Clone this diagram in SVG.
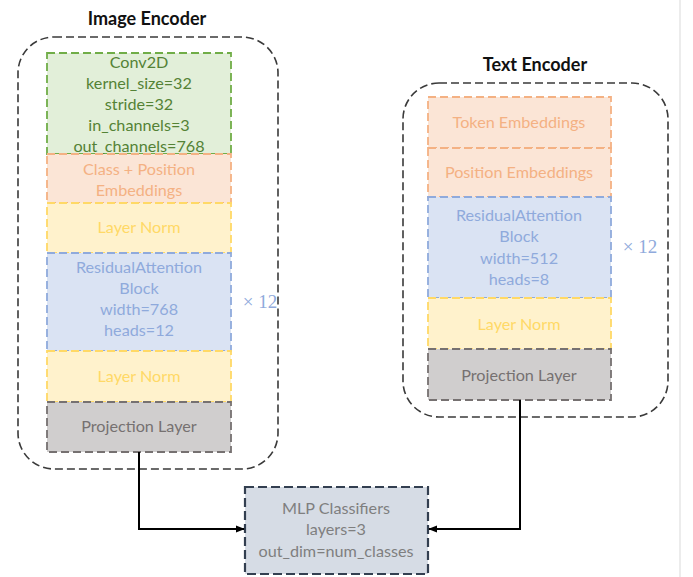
<svg xmlns="http://www.w3.org/2000/svg" width="693" height="577" viewBox="0 0 693 577">
<defs>
<style>
text{font-family:Lato,"Open Sans","Liberation Sans",sans-serif;font-size:16.2px;text-anchor:middle}
.title{font-weight:bold;font-size:18px;fill:#111}
.outer{fill:none;stroke:#3a3a3a;stroke-width:1.6;stroke-dasharray:8 4}
.box{stroke-width:1.8;stroke-dasharray:8 4}
.green{fill:#e2efd9;stroke:#70ad47}
.green-t{fill:#548235}
.orange{fill:#fbe5d6;stroke:#f4b183}
.orange-t{fill:#f4b183}
.yellow{fill:#fff2cc;stroke:#ffd966}
.yellow-t{fill:#ffd966}
.blue{fill:#dae3f3;stroke:#8faadc}
.blue-t{fill:#8faadc}
.gray{fill:#d0cece;stroke:#767171}
.gray-t{fill:#767171}
.mlp{fill:#d6dce5;stroke:#333f50;stroke-width:2.2;stroke-dasharray:9 4}
.mlp-t{fill:#7f7f7f}
.rep{fill:#8faadc;font-size:19px;font-family:"Liberation Serif",serif}
.conn{fill:none;stroke:#000;stroke-width:2}
</style>
<marker id="arr" viewBox="0 0 10 10" refX="9" refY="5" markerWidth="4.5" markerHeight="4.5" orient="auto" markerUnits="strokeWidth">
<path d="M0,1 L10,5 L0,9 z" fill="#000"/>
</marker>
</defs>
<rect x="0" y="0" width="693" height="577" fill="#fff"/>
<line x1="680" y1="0" x2="680" y2="577" stroke="#ececec" stroke-width="2"/>

<g id="image-encoder">
<text class="title" x="147" y="25">Image Encoder</text>
<rect class="outer" x="18" y="37" width="260" height="432" rx="36"/>
<g id="conv2d">
<rect class="box green" x="47" y="53" width="184" height="101"/>
<text class="green-t" x="139" y="68">Conv2D</text>
<text class="green-t" x="139" y="89">kernel_size=32</text>
<text class="green-t" x="139" y="110">stride=32</text>
<text class="green-t" x="139" y="131">in_channels=3</text>
<text class="green-t" x="139" y="152">out_channels=768</text>
</g>
<g id="class-pos-emb">
<rect class="box orange" x="47" y="154" width="184" height="49"/>
<text class="orange-t" x="139" y="175">Class + Position</text>
<text class="orange-t" x="139" y="196">Embeddings</text>
</g>
<g id="img-ln1">
<rect class="box yellow" x="47" y="203" width="184" height="50"/>
<text class="yellow-t" x="139" y="233">Layer Norm</text>
</g>
<g id="img-rab">
<rect class="box blue" x="47" y="253" width="184" height="98"/>
<text class="blue-t" x="139" y="273">ResidualAttention</text>
<text class="blue-t" x="139" y="294">Block</text>
<text class="blue-t" x="139" y="315">width=768</text>
<text class="blue-t" x="139" y="336">heads=12</text>
</g>
<text class="rep" x="260" y="308">× 12</text>
<g id="img-ln2">
<rect class="box yellow" x="47" y="351" width="184" height="51"/>
<text class="yellow-t" x="139" y="382">Layer Norm</text>
</g>
<g id="img-proj">
<rect class="box gray" x="47" y="402" width="184" height="50"/>
<text class="gray-t" x="139" y="432">Projection Layer</text>
</g>
</g>

<g id="text-encoder">
<text class="title" x="535" y="71">Text Encoder</text>
<rect class="outer" x="403" y="83" width="265" height="334" rx="36"/>
<g id="token-emb">
<rect class="box orange" x="428" y="97" width="183" height="51"/>
<text class="orange-t" x="519" y="128">Token Embeddings</text>
</g>
<g id="pos-emb">
<rect class="box orange" x="428" y="148" width="183" height="49"/>
<text class="orange-t" x="519" y="178">Position Embeddings</text>
</g>
<g id="txt-rab">
<rect class="box blue" x="428" y="197" width="183" height="101"/>
<text class="blue-t" x="519" y="221">ResidualAttention</text>
<text class="blue-t" x="519" y="242">Block</text>
<text class="blue-t" x="519" y="264">width=512</text>
<text class="blue-t" x="519" y="285">heads=8</text>
</g>
<text class="rep" x="640" y="253">× 12</text>
<g id="txt-ln">
<rect class="box yellow" x="428" y="298" width="183" height="51"/>
<text class="yellow-t" x="519" y="330">Layer Norm</text>
</g>
<g id="txt-proj">
<rect class="box gray" x="428" y="349" width="183" height="51"/>
<text class="gray-t" x="519" y="381">Projection Layer</text>
</g>
</g>

<g id="mlp">
<rect class="mlp" x="245" y="487" width="183" height="87"/>
<text class="mlp-t" x="336" y="514">MLP Classifiers</text>
<text class="mlp-t" x="336" y="535">layers=3</text>
<text class="mlp-t" x="336" y="557">out_dim=num_classes</text>
</g>

<g id="connectors">
<path class="conn" d="M139,452 V529 H244" marker-end="url(#arr)"/>
<path class="conn" d="M520,400 V529 H429" marker-end="url(#arr)"/>
</g>
</svg>
